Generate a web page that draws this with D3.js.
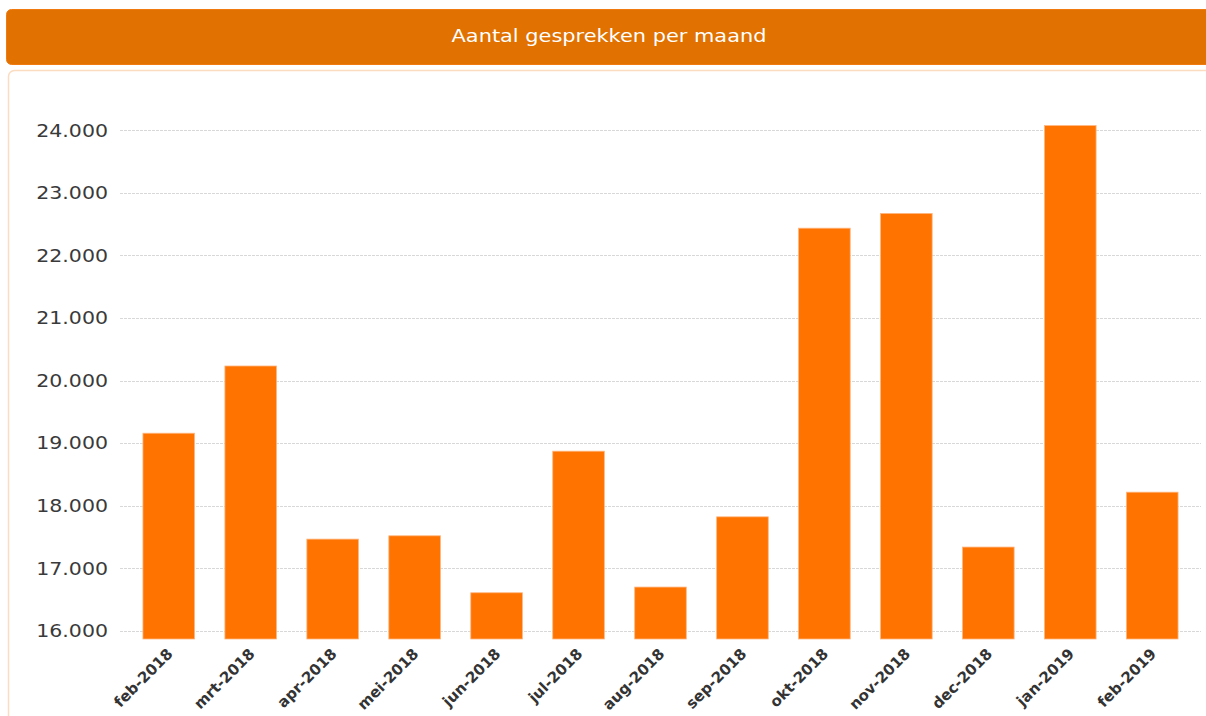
<!DOCTYPE html>
<html>
<head>
<meta charset="utf-8">
<script src="https://cdn.jsdelivr.net/npm/d3@7"></script>
<style>
  body { margin: 0; background: #fff; }
  svg { display: block; font-family: "DejaVu Sans", Verdana, sans-serif; }
</style>
</head>
<body>
<svg id="chart" width="1206" height="716"></svg>
<script>
// Monthly call volume
const chartTitle = "Aantal gesprekken per maand";
const months = ["feb-2018", "mrt-2018", "apr-2018", "mei-2018", "jun-2018", "jul-2018",
                "aug-2018", "sep-2018", "okt-2018", "nov-2018", "dec-2018", "jan-2019", "feb-2019"];
const calls = [19160, 20234, 17468, 17521, 16611, 18873, 16702, 17824, 22436, 22671, 17341, 24075, 18218];
const yTicks = [16000, 17000, 18000, 19000, 20000, 21000, 22000, 23000, 24000];
const yDomain = [15872, 24500];

const W = 1206, H = 716;
const plot = { left: 120, right: 1201, top: 99, bottom: 639 };

const nl = d3.formatLocale({ decimal: ",", thousands: ".", grouping: [3], currency: ["€", ""] });
const fmt = nl.format(",d");

const svg = d3.select("#chart");

// header bar
svg.append("rect")
  .attr("x", 6.5).attr("y", 9.5).attr("width", W + 20).attr("height", 55)
  .attr("rx", 5).attr("fill", "#e17100").attr("stroke", "#f07a10").attr("stroke-width", 1);

svg.append("text")
  .attr("transform", `translate(609,36) scale(1.13,1)`)
  .attr("text-anchor", "middle").attr("dy", "0.35em")
  .attr("fill", "#fff").attr("font-size", 18.5)
  .text(chartTitle);

// panel frame
svg.append("rect")
  .attr("x", 8.5).attr("y", 70.5).attr("width", W + 20).attr("height", H)
  .attr("rx", 6).attr("fill", "#fff").attr("stroke", "#fbdcc0").attr("stroke-width", 1.5);

const x = d3.scaleBand()
  .domain(months)
  .range([plot.left, plot.right])
  .paddingInner(0.37)
  .paddingOuter(0.28);

const y = d3.scaleLinear()
  .domain(yDomain)
  .range([plot.bottom, plot.top]);

// grid
svg.append("g")
  .selectAll("line")
  .data(yTicks)
  .join("line")
  .attr("x1", plot.left).attr("x2", plot.right)
  .attr("y1", d => Math.round(y(d)) + 0.5).attr("y2", d => Math.round(y(d)) + 0.5)
  .attr("stroke", "#d8d8d8").attr("stroke-width", 1).attr("stroke-dasharray", "3,1");

// y axis labels
const yAxis = svg.append("g")
  .attr("transform", `translate(${plot.left},0)`)
  .call(d3.axisLeft(y).tickValues(yTicks).tickFormat(fmt).tickSize(0));
yAxis.select(".domain").remove();
yAxis.selectAll("text")
  .attr("x", 0)
  .attr("transform", "translate(-12,0) scale(1.14,1)")
  .attr("font-family", "DejaVu Sans, Verdana, sans-serif")
  .attr("font-size", 18).attr("fill", "#3a3a3a");

// bars
svg.append("g")
  .selectAll("rect")
  .data(months.map((m, i) => ({ m, v: calls[i] })))
  .join("rect")
  .attr("x", d => x(d.m))
  .attr("width", x.bandwidth())
  .attr("y", d => y(d.v))
  .attr("height", d => y(yDomain[0]) - y(d.v))
  .attr("fill", "#ff7400")
  .attr("stroke", "#ffb680").attr("stroke-width", 0.8);

// x axis labels
const xAxis = svg.append("g")
  .attr("transform", `translate(0,${plot.bottom})`)
  .call(d3.axisBottom(x).tickSize(0));
xAxis.select(".domain").remove();
xAxis.selectAll("text")
  .attr("font-family", "DejaVu Sans, Verdana, sans-serif")
  .attr("font-size", 15).attr("font-weight", "bold").attr("fill", "#333")
  .attr("text-anchor", "end")
  .attr("dy", "0.35em")
  .attr("transform", "translate(-1,10) rotate(-45)");
</script>
</body>
</html>
